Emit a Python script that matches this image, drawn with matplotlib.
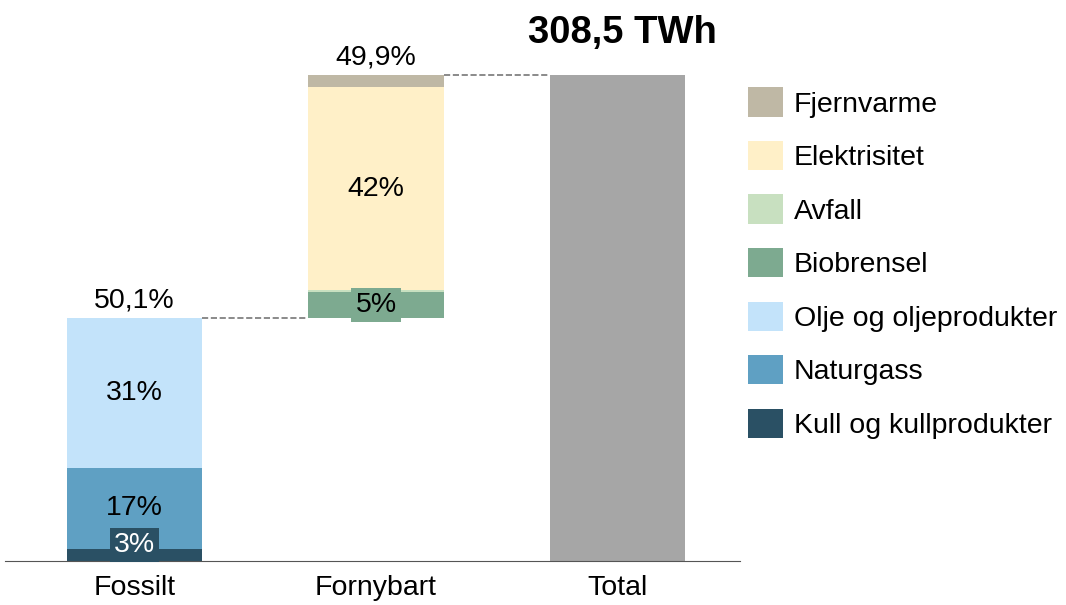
import matplotlib.pyplot as plt
from matplotlib.patches import Patch

plt.rcParams['font.family'] = ['Liberation Sans', 'DejaVu Sans']

categories = ['Fossilt', 'Fornybart', 'Total']
total_twh = '308,5 TWh'

# shares in percent of total, bottom to top
fossil_names = ['Kull og kullprodukter', 'Naturgass', 'Olje og oljeprodukter']
fossil_vals = [2.5, 16.7, 30.9]
fossil_labels = ['3%', '17%', '31%']

renew_names = ['Biobrensel', 'Avfall', 'Elektrisitet', 'Fjernvarme']
renew_vals = [5.2, 0.4, 41.8, 2.5]
renew_labels = ['5%', '', '42%', '']

sum_labels = ['50,1%', '49,9%']
total_val = 100.0

colors = {
    'Fjernvarme': '#bfb8a5',
    'Elektrisitet': '#fff0c8',
    'Avfall': '#c8e0c0',
    'Biobrensel': '#7daa90',
    'Olje og oljeprodukter': '#c3e3fa',
    'Naturgass': '#5fa0c3',
    'Kull og kullprodukter': '#2a5064',
}
legend_order = ['Fjernvarme', 'Elektrisitet', 'Avfall', 'Biobrensel',
                'Olje og oljeprodukter', 'Naturgass', 'Kull og kullprodukter']

W, H = 1066, 605
fig = plt.figure(figsize=(W / 100, H / 100), dpi=100)
ax = fig.add_axes([5 / W, (H - 561) / H, 735 / W, 561 / H])

fs = 20.5
bw = 0.56

# fossil stack
bottom = 0
for name, v, lab in zip(fossil_names, fossil_vals, fossil_labels):
    ax.bar(0, v, bw, bottom=bottom, color=colors[name], linewidth=0)
    if name == 'Kull og kullprodukter':
        ax.text(0, bottom + v + 0.7, lab, ha='center', va='center', fontsize=fs,
                color='white',
                bbox=dict(boxstyle='square,pad=0.14', fc=colors[name], ec='none'))
    else:
        ax.text(0, bottom + v / 2, lab, ha='center', va='center', fontsize=fs)
    bottom += v
fossil_top = bottom

# renewable stack, floating on top of fossil
bottom = fossil_top
for name, v, lab in zip(renew_names, renew_vals, renew_labels):
    ax.bar(1, v, bw, bottom=bottom, color=colors[name], linewidth=0)
    if name == 'Biobrensel':
        ax.text(1, bottom + v / 2, lab, ha='center', va='center', fontsize=fs,
                bbox=dict(boxstyle='square,pad=0.14', fc=colors[name], ec='none'))
    elif lab:
        ax.text(1, bottom + v / 2, lab, ha='center', va='center', fontsize=fs)
    bottom += v
renew_top = bottom

ax.bar(2, total_val, bw, color='#a6a6a6', linewidth=0)

# connectors
ax.plot([bw / 2, 1 - bw / 2], [fossil_top, fossil_top], ls='--', color='#777777', lw=1.2)
ax.plot([1 + bw / 2, 2 - bw / 2], [renew_top, renew_top], ls='--', color='#777777', lw=1.2)

# sums
ax.annotate(sum_labels[0], (0, fossil_top), xytext=(0, 3), textcoords='offset points',
            ha='center', va='bottom', fontsize=fs)
ax.annotate(sum_labels[1], (1, renew_top), xytext=(0, 3), textcoords='offset points',
            ha='center', va='bottom', fontsize=fs)
ax.annotate(total_twh, (2.02, total_val), xytext=(0, 23), textcoords='offset points',
            ha='center', va='baseline', fontsize=27.5, fontweight='bold')

ax.set_xlim((5 - 134.5) / 241.5, (740 - 134.5) / 241.5)
ax.set_ylim(0, 561 / 4.86)
ax.set_xticks(range(len(categories)))
ax.set_xticklabels(categories, fontsize=fs)
ax.tick_params(axis='x', length=0, pad=10)
ax.set_yticks([])
for s in ['top', 'right', 'left']:
    ax.spines[s].set_visible(False)
ax.spines['bottom'].set_color('#555555')

handles = [Patch(facecolor=colors[n], edgecolor='none', label=n) for n in legend_order]
fig.legend(handles=handles, loc='upper left', bbox_to_anchor=(737 / W, 1 - 76 / H),
           frameon=False, fontsize=fs, handlelength=1.2, handleheight=1.2,
           handletextpad=0.4, labelspacing=0.82, borderaxespad=0)

fig.savefig('out.png', dpi=100)
